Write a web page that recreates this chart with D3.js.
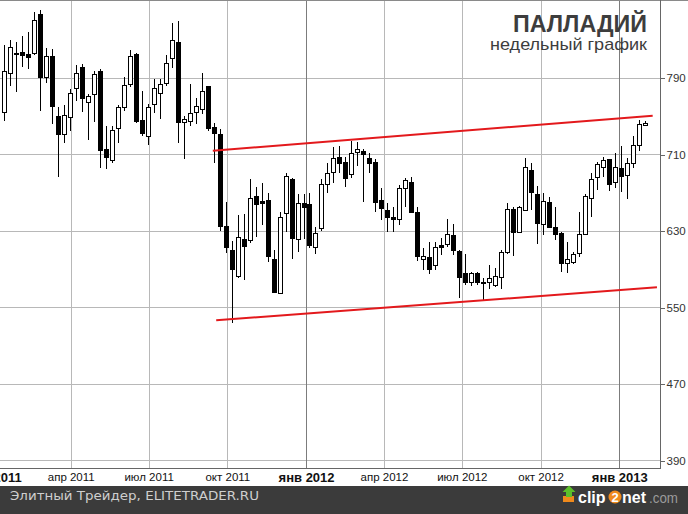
<!DOCTYPE html>
<html><head><meta charset="utf-8">
<script src="https://cdn.jsdelivr.net/npm/d3@7"></script>
<style>body{margin:0;background:#fff;} svg{display:block;}</style>
</head><body>
<svg id="chart" width="688" height="514"></svg>
<script>
// ---- data ----
const weekStart = "2011-01-13", weekEnd = "2013-02-01"; // weekly candles (Thursdays)
const open = [754.5,794.7,815.0,816.7,814.9,815.6,856.4,790.5,812.8,750.0,
730.8,748.6,779.0,801.0,765.0,772.7,797.1,715.5,703.9,737.7,
759.7,783.2,814.9,745.8,729.4,762.2,773.8,784.2,811.0,827.1,
743.4,745.1,754.5,757.3,781.4,738.2,730.8,634.9,609.8,582.5,
621.3,620.2,666.3,661.0,662.1,600.3,565.1,648.2,684.1,620.9,
659.3,657.9,613.2,633.1,678.5,691.7,707.4,702.2,689.0,712.0,
713.7,705.7,701.5,662.1,651.6,644.3,641.9,674.3,680.6,649.8,
600.0,602.1,594.0,615.0,615.7,625.4,608.7,585.4,576.6,585.4,
576.6,576.6,573.1,581.2,607.3,652.3,628.9,651.6,693.5,668.4,
637.0,659.7,633.5,627.2,595.8,597.5,606.9,626.2,664.5,685.8,
696.3,705.0,681.2,695.3,688.2,700.5,719.6,740.6];
const close = [797.1,821.9,816.0,813.8,812.1,850.5,790.5,812.8,760.8,730.8,
751.0,773.8,794.7,769.1,770.9,793.9,714.4,707.4,735.3,759.1,
782.4,812.8,744.8,732.5,759.1,779.0,783.2,805.1,829.5,743.4,
746.5,752.8,760.5,776.2,737.7,731.9,634.9,613.2,589.5,623.0,
614.0,663.9,657.6,659.3,603.8,566.1,644.0,687.2,622.6,658.6,
655.1,615.0,627.9,678.5,690.0,705.7,700.5,684.8,711.0,715.1,
710.0,700.5,659.7,653.4,644.6,642.5,674.3,683.0,649.8,603.5,
603.5,589.5,613.2,613.2,626.5,609.7,581.8,576.6,585.4,576.0,
575.5,580.1,582.5,607.3,652.3,628.9,654.4,696.3,670.8,637.7,
661.3,634.1,626.2,596.5,600.0,605.2,626.2,666.3,683.7,699.8,
703.9,678.5,696.3,687.2,700.5,719.6,741.6,742.4];
const high = [824.3,829.5,827.1,833.7,838.2,859.2,860.9,820.8,820.1,759.7,
761.5,778.2,803.4,804.1,772.7,797.4,799.2,739.8,739.8,761.5,
791.1,819.1,816.2,776.2,762.5,788.7,788.7,813.8,847.6,849.4,
750.0,783.2,769.1,794.7,781.4,742.4,736.1,660.3,619.2,646.4,
647.1,683.7,675.4,679.6,669.7,609.8,649.8,690.0,685.4,668.0,
668.0,669.1,634.1,683.7,701.1,717.9,718.6,707.4,723.8,723.1,
715.1,710.9,704.7,674.3,658.6,655.1,677.8,684.8,686.5,655.1,
611.5,618.4,618.4,622.0,642.2,637.0,609.8,605.6,587.0,587.0,
580.1,594.0,590.6,609.8,658.6,655.1,655.8,705.7,700.5,676.7,
669.1,665.5,655.1,628.9,618.4,608.0,649.8,668.0,690.0,702.2,
706.8,705.0,711.0,718.6,705.7,729.1,745.8,744.8];
const low = [744.8,781.7,775.4,801.6,798.9,813.8,755.2,784.8,741.3,686.5,
721.4,734.3,766.0,753.9,724.9,744.0,695.3,694.5,700.5,721.4,
755.2,780.7,742.4,729.1,719.6,752.8,746.9,781.7,799.9,721.4,
705.0,739.8,741.3,751.8,734.3,700.5,629.6,606.3,533.6,580.1,
578.4,616.8,623.7,635.9,597.5,566.1,565.1,628.9,600.0,608.0,
620.9,611.5,605.6,629.9,669.1,679.6,690.0,676.0,684.8,698.0,
660.3,690.0,649.8,641.1,628.9,628.9,635.9,655.1,648.2,598.2,
588.8,584.6,588.8,604.5,613.2,604.5,559.8,573.1,572.1,573.1,
557.4,568.6,571.5,569.3,605.6,603.5,627.2,650.9,651.6,616.0,
625.4,632.5,620.2,587.0,586.0,595.1,602.7,625.4,644.6,672.5,
686.5,671.5,674.3,670.8,662.8,695.3,713.7,739.5];
const yTicks = [390, 470, 550, 630, 710, 790];
const xTickDates = ["2011-01-01","2011-04-01","2011-07-01","2011-10-01","2012-01-01","2012-04-01","2012-07-01","2012-10-01","2013-01-01"];
const xTickLabels = ["янв 2011","апр 2011","июл 2011","окт 2011","янв 2012","апр 2012","июл 2012","окт 2012","янв 2013"];
const upperDates = ["2011-09-14","2013-02-09"], upperValues = [713.7, 750.3];
const lowerDates = ["2011-09-18","2013-02-14"], lowerValues = [536.2, 570.7];
const titleText = "ПАЛЛАДИЙ", subtitleText = "недельный график";
const footerText = "Элитный Трейдер, ELITETRADER.RU";

// ---- scales ----
const parse = d3.timeParse("%Y-%m-%d");
const dates = d3.timeThursday.range(parse(weekStart), parse(weekEnd));
const x = d3.scaleTime().domain([parse("2011-01-01"), parse("2013-01-01")]).range([-6.3, 619.3]);
const y = d3.scaleLinear().domain([390, 790]).range([460, 77.8]);
const plotR = 660, plotB = 468;

const svg = d3.select("#chart");
svg.append("rect").attr("width",688).attr("height",514).attr("fill","#fff");

// grid
const grid = svg.append("g").attr("shape-rendering","crispEdges");
grid.selectAll(".hg").data(yTicks).join("line")
  .attr("x1",0).attr("x2",plotR)
  .attr("y1",d=>Math.round(y(d))+0.5).attr("y2",d=>Math.round(y(d))+0.5)
  .attr("stroke","#b8b8b8");
const tickDates = xTickDates.map(parse);
grid.selectAll(".vg").data(tickDates).join("line")
  .attr("x1",d=>Math.round(x(d))+0.5).attr("x2",d=>Math.round(x(d))+0.5)
  .attr("y1",0).attr("y2",plotB)
  .attr("stroke",d=>d.getMonth()===0 ? "#7c7c7c" : "#b8b8b8");
grid.append("line").attr("x1",0).attr("x2",688).attr("y1",0.5).attr("y2",0.5).attr("stroke","#8a8a8a");
grid.append("line").attr("x1",0).attr("x2",plotR).attr("y1",plotB+0.5).attr("y2",plotB+0.5).attr("stroke","#666");
grid.append("line").attr("x1",plotR+0.5).attr("x2",plotR+0.5).attr("y1",0).attr("y2",plotB+1).attr("stroke","#666");

// right axis
const yAxis = svg.append("g").attr("transform",`translate(${plotR+0.5},0.5)`)
  .call(d3.axisRight(y).tickValues(yTicks).tickSize(4).tickPadding(2));
yAxis.select(".domain").remove();
yAxis.selectAll("line").attr("stroke","#666").attr("shape-rendering","crispEdges");
yAxis.selectAll("text").attr("font-family","Liberation Sans, Arial, sans-serif").attr("font-size",11.5).attr("fill","#333");

// bottom axis labels
const xAxis = svg.append("g").attr("transform",`translate(0,${plotB})`)
  .call(d3.axisBottom(x).tickValues(tickDates).tickSize(0).tickPadding(5).tickFormat((d,i)=>xTickLabels[i]));
xAxis.select(".domain").remove();
xAxis.selectAll("text")
  .attr("font-family","Liberation Sans Narrow, Arial Narrow, Liberation Sans, sans-serif")
  .attr("font-size",(d)=>d.getMonth()===0 ? 13 : 11.5)
  .attr("font-weight",(d)=>d.getMonth()===0 ? "bold" : "normal")
  .attr("fill","#111");

// candles
const candles = svg.append("g").attr("shape-rendering","crispEdges");
const cd = dates.map((d,i)=>({d, o:open[i], h:high[i], l:low[i], c:close[i]}));
candles.selectAll(".wick").data(cd).join("line")
  .attr("x1",d=>Math.round(x(d.d))+0.5).attr("x2",d=>Math.round(x(d.d))+0.5)
  .attr("y1",d=>Math.round(y(d.h))).attr("y2",d=>Math.round(y(d.l)))
  .attr("stroke","#000");
candles.selectAll(".body").data(cd).join("rect")
  .attr("x",d=>Math.round(x(d.d))-1.5)
  .attr("y",d=>Math.round(y(Math.max(d.o,d.c)))+0.5)
  .attr("width",4)
  .attr("height",d=>Math.max(1, Math.round(y(Math.min(d.o,d.c))) - Math.round(y(Math.max(d.o,d.c)))))
  .attr("fill",d=>d.c>=d.o ? "#fff" : "#000")
  .attr("stroke","#000");

// channel lines
const line = d3.line().x(p=>x(p[0])).y(p=>y(p[1]));
svg.append("path").attr("d",line(upperDates.map((d,i)=>[parse(d),upperValues[i]])))
  .attr("stroke","#e3191c").attr("stroke-width",2).attr("fill","none");
svg.append("path").attr("d",line(lowerDates.map((d,i)=>[parse(d),lowerValues[i]])))
  .attr("stroke","#e3191c").attr("stroke-width",2).attr("fill","none");

// title
svg.append("text").attr("x",647).attr("y",32).attr("text-anchor","end")
  .attr("font-family","Liberation Sans, Arial, sans-serif").attr("font-weight","bold").attr("font-size",24)
  .attr("fill","#3d3d3d").attr("textLength",134).attr("lengthAdjust","spacingAndGlyphs").text(titleText);
svg.append("text").attr("x",647).attr("y",50).attr("text-anchor","end")
  .attr("font-family","Liberation Sans, Arial, sans-serif").attr("font-size",17)
  .attr("fill","#3d3d3d").attr("textLength",157).attr("lengthAdjust","spacingAndGlyphs").text(subtitleText);

// footer
svg.append("rect").attr("x",0).attr("y",486).attr("width",688).attr("height",28).attr("fill","#3b3b3b");
svg.append("text").attr("x",10).attr("y",500)
  .attr("font-family","DejaVu Sans, Verdana, sans-serif").attr("font-size",12)
  .attr("fill","#cfcfcf").attr("textLength",249).attr("lengthAdjust","spacingAndGlyphs").text(footerText);

// clip2net logo
const logo = svg.append("g");
logo.append("rect").attr("x",563).attr("y",496).attr("width",11).attr("height",6).attr("fill","#f08a1c");
logo.append("path").attr("d","M566,497 L566,492 L562.5,492 L569,485.5 L575.5,492 L572,492 L572,497 Z").attr("fill","#5cbf2a");
logo.append("text").attr("x",578).attr("y",503)
  .attr("font-family","Liberation Sans, Arial, sans-serif").attr("font-weight","bold").attr("font-size",16)
  .attr("fill","#fff").text("clip");
logo.append("circle").attr("cx",615).attr("cy",497).attr("r",6.5).attr("fill","#f08a1c");
logo.append("text").attr("x",615).attr("y",502).attr("text-anchor","middle")
  .attr("font-family","Liberation Sans, Arial, sans-serif").attr("font-weight","bold").attr("font-size",13).attr("fill","#fff").text("2");
logo.append("text").attr("x",622).attr("y",503)
  .attr("font-family","Liberation Sans, Arial, sans-serif").attr("font-weight","bold").attr("font-size",16)
  .attr("fill","#fff").text("net");
logo.append("text").attr("x",649).attr("y",503)
  .attr("font-family","Liberation Sans, Arial, sans-serif").attr("font-size",14)
  .attr("fill","#9a9a9a").attr("textLength",29).attr("lengthAdjust","spacingAndGlyphs").text(".com");
</script>
</body></html>
